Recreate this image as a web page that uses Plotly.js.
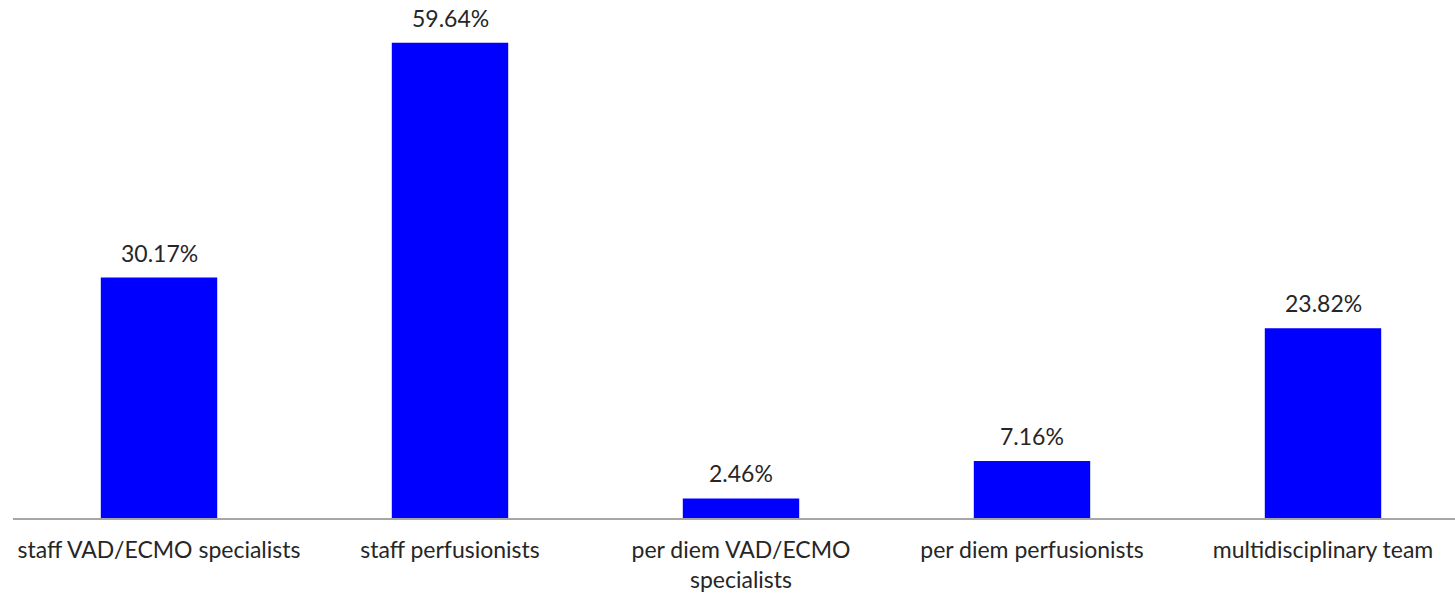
<!DOCTYPE html>
<html>
<head>
<meta charset="utf-8">
<script src="https://cdn.plot.ly/plotly-3.0.1.min.js"></script>
<style>
html,body{margin:0;padding:0;background:#fff;}
#chart{width:1455px;height:595px;}
</style>
</head>
<body>
<div id="chart"></div>
<script>
var categories = ["staff VAD/ECMO specialists", "staff perfusionists", "per diem VAD/ECMO<br>specialists", "per diem perfusionists", "multidisciplinary team"];
var values = [30.17, 59.64, 2.46, 7.16, 23.82];
var valueLabels = ["30.17%", "59.64%", "2.46%", "7.16%", "23.82%"];

var FONT = "Lato, 'Open Sans', sans-serif";

var trace = {
  type: "bar",
  x: [0, 1, 2, 3, 4],
  y: values,
  width: 0.4,
  marker: {color: "#0000FF"},
  hoverinfo: "none"
};

var annotations = values.map(function(v, i){
  return {
    x: i, y: v, xref: "x", yref: "y",
    text: valueLabels[i], showarrow: false,
    yanchor: "bottom", yshift: 9,
    font: {family: FONT, size: 23, color: "#262626"}
  };
});

var layout = {
  width: 1455, height: 595,
  margin: {l: 13, r: 0, t: 0, b: 77},
  paper_bgcolor: "#fff", plot_bgcolor: "#fff",
  showlegend: false,
  xaxis: {
    range: [-0.5017, 4.4536],
    tickmode: "array",
    tickvals: [0, 1, 2, 3, 4],
    ticktext: categories,
    showgrid: false, zeroline: false,
    showline: true, linecolor: "#a6a6a6", linewidth: 1.5,
    ticks: "", ticklabelstandoff: 11,
    tickfont: {family: FONT, size: 23, color: "#262626"},
    fixedrange: true
  },
  yaxis: {
    range: [0, 65],
    showgrid: false, zeroline: false, showline: false,
    showticklabels: false, ticks: "",
    fixedrange: true
  },
  annotations: annotations,
  bargap: 0.6
};

Plotly.newPlot("chart", [trace], layout, {displayModeBar: false, staticPlot: true});
</script>
</body>
</html>
